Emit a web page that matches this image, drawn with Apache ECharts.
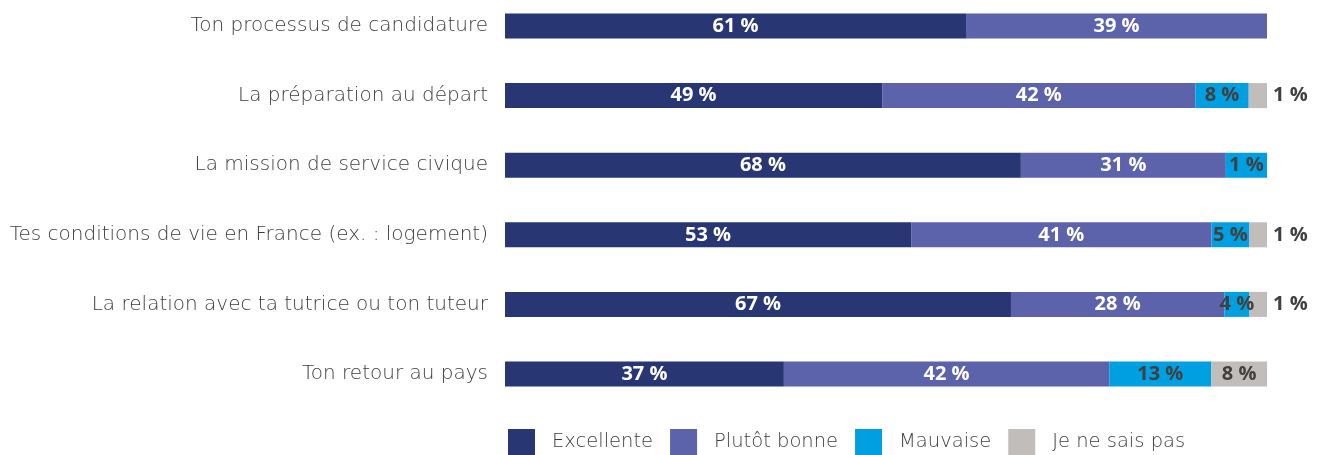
<!DOCTYPE html>
<html>
<head>
<meta charset="utf-8">
<script src="https://cdn.jsdelivr.net/npm/echarts@6/dist/echarts.min.js"></script>
<style>
html,body{margin:0;padding:0;background:#fff;}
#chart{width:1320px;height:455px;}
</style>
</head>
<body>
<div id="chart"></div>
<script>
// Categories (top to bottom)
const categories = [
  "Ton processus de candidature",
  "La préparation au départ",
  "La mission de service civique",
  "Tes conditions de vie en France (ex. : logement)",
  "La relation avec ta tutrice ou ton tuteur",
  "Ton retour au pays"
];
const seriesNames = ["Excellente", "Plutôt bonne", "Mauvaise", "Je ne sais pas"];

// Segment lengths as drawn (share of the bar, %)
const excellente  = [60.5, 49.5, 67.7, 53.3, 66.4, 36.6];
const plutotBonne = [39.5, 41.1, 26.9, 39.4, 28.0, 42.7];
const mauvaise    = [null, 7.0, 5.4, 5.0, 3.3, 13.4];
const neSaisPas   = [null, 2.4, null, 2.3, 2.3, 7.3];

// Printed percentage labels
const excellenteLabels  = [61, 49, 68, 53, 67, 37];
const plutotBonneLabels = [39, 42, 31, 41, 28, 42];
const mauvaiseLabels    = [null, 8, 1, 5, 4, 13];
const neSaisPasLabels   = [null, 1, null, 1, 1, 8];

const colors = ["#283673", "#5C63AB", "#009FE1", "#C1BDBA"];
const labelColors = ["#ffffff", "#ffffff", "#404040", "#404040"];
const values = [excellente, plutotBonne, mauvaise, neSaisPas];
const labels = [excellenteLabels, plutotBonneLabels, mauvaiseLabels, neSaisPasLabels];

const TEXT_FONT = "DejaVu Sans";
const VALUE_FONT = "Open Sans";

const series = seriesNames.map(function (name, si) {
  return {
    name: name,
    type: "bar",
    stack: "total",
    barWidth: 25,
    itemStyle: { color: colors[si] },
    label: {
      show: true,
      position: "inside",
      color: labelColors[si],
      fontFamily: VALUE_FONT,
      fontWeight: 700,
      fontSize: 20,
      formatter: function (p) {
        const t = labels[si][p.dataIndex];
        return t == null ? "" : t + " %";
      }
    },
    data: values[si].map(function (v, i) {
      if (si === 3 && v != null && v < 4) {
        return { value: v, label: { position: "right", distance: 6 } };
      }
      return v;
    })
  };
});

const chart = echarts.init(document.getElementById("chart"), null, { renderer: "canvas" });
chart.setOption({
  animation: false,
  color: colors,
  grid: { left: 505, right: 53, top: 26, bottom: 81, containLabel: false, outerBoundsMode: "none" },
  xAxis: { type: "value", min: 0, max: 100, show: false },
  yAxis: {
    type: "category",
    inverse: true,
    boundaryGap: false,
    data: categories,
    axisLine: { show: false },
    axisTick: { show: false },
    splitLine: { show: false },
    axisLabel: {
      margin: 17,
      color: "#3c3c3c",
      fontFamily: TEXT_FONT,
      fontWeight: 200,
      fontSize: 20
    }
  },
  legend: {
    data: seriesNames,
    left: 508,
    top: 429,
    padding: 0,
    itemWidth: 27,
    itemHeight: 26,
    itemGap: 17,
    icon: "rect",
    textStyle: {
      color: "#3c3c3c",
      fontFamily: TEXT_FONT,
      fontWeight: 200,
      fontSize: 19.5,
      padding: [0, 0, 0, 12]
    }
  },
  series: series
});
</script>
</body>
</html>
